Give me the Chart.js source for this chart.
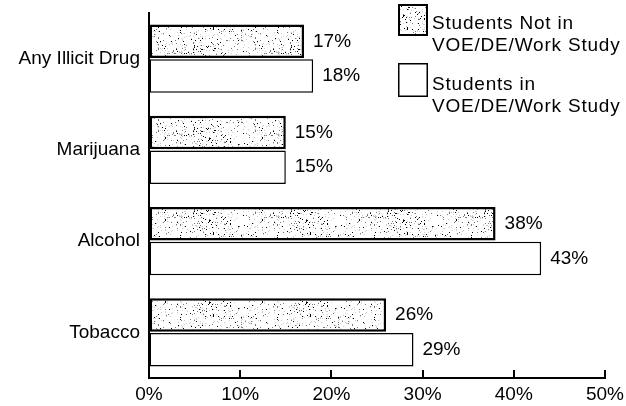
<!DOCTYPE html>
<html>
<head>
<meta charset="utf-8">
<script src="https://cdn.jsdelivr.net/npm/chart.js@4/dist/chart.umd.min.js"></script>
<style>
html,body{margin:0;padding:0;background:#fff;}
canvas{display:block;}
</style>
</head>
<body>
<canvas id="c" width="626" height="406"></canvas>
<script>
// ---- data ----
const categories = ['Any Illicit Drug', 'Marijuana', 'Alcohol', 'Tobacco'];
const notInProgramValues = [17, 15, 38, 26];
const inProgramValues = [18, 15, 43, 29];
const xTickValues = [0, 10, 20, 30, 40, 50];
const seriesNotInLabel = ['Students Not in', 'VOE/DE/Work Study'];
const seriesInLabel = ['Students in', 'VOE/DE/Work Study'];

const FONT = '"Liberation Sans", Arial, Helvetica, sans-serif';
const FSIZE = 19;

// ---- stipple texture (style only) ----
function makeStipple() {
  const off = document.createElement('canvas');
  off.width = 97; off.height = 41;
  const o = off.getContext('2d');
  o.fillStyle = '#fff';
  o.fillRect(0, 0, off.width, off.height);
  let s = 12345;
  const rnd = () => { s = (s * 1103515245 + 12345) & 0x7fffffff; return s / 0x7fffffff; };
  for (let y = 0; y < off.height; y++) {
    for (let x = 0; x < off.width; x++) {
      const r = rnd();
      let col = null;
      if (r < 0.022) col = '#000';
      else if (r < 0.05) col = '#777';
      else if (r < 0.10) col = '#ccc';
      if (col) { o.fillStyle = col; o.fillRect(x, y, 1, 1); }
    }
  }
  return document.createElement('canvas').getContext('2d').createPattern(off, 'repeat');
}
const stipple = makeStipple();

// ---- plugins ----
const extras = {
  id: 'extras',
  afterDraw(chart) {
    const ctx = chart.ctx;
    const xs = chart.scales.x;
    const area = chart.chartArea;
    ctx.save();
    // upward tick marks on x axis
    ctx.strokeStyle = '#000';
    ctx.lineWidth = 2;
    xTickValues.forEach(v => {
      const px = Math.round(xs.getPixelForValue(v));
      ctx.beginPath();
      ctx.moveTo(px, area.bottom);
      ctx.lineTo(px, area.bottom - 8);
      ctx.stroke();
    });
    // value labels
    ctx.fillStyle = '#000';
    ctx.font = FSIZE + 'px ' + FONT;
    ctx.textAlign = 'left';
    ctx.textBaseline = 'middle';
    chart.data.datasets.forEach((ds, di) => {
      const meta = chart.getDatasetMeta(di);
      meta.data.forEach((el, i) => {
        ctx.fillText(ds.data[i] + '%', el.x + 9, el.y);
      });
    });
    // legend
    const bx = 398, bw = 30;
    ctx.fillStyle = stipple;
    ctx.fillRect(bx, 4, bw, 32);
    ctx.lineWidth = 2;
    ctx.strokeStyle = '#000';
    ctx.strokeRect(bx + 1, 5, bw - 2, 30);
    ctx.fillStyle = '#fff';
    ctx.fillRect(bx, 63, bw, 34);
    ctx.lineWidth = 1.5;
    ctx.strokeRect(bx + 0.75, 63.75, bw - 1.5, 32.5);
    ctx.fillStyle = '#000';
    ctx.font = FSIZE + 'px ' + FONT;
    ctx.textBaseline = 'middle';
    if ('letterSpacing' in ctx) ctx.letterSpacing = '0.8px';
    ctx.fillText(seriesNotInLabel[0], 432, 24);
    ctx.fillText(seriesNotInLabel[1], 432, 46);
    ctx.fillText(seriesInLabel[0], 432, 85);
    ctx.fillText(seriesInLabel[1], 432, 107);
    ctx.restore();
  }
};

new Chart(document.getElementById('c'), {
  type: 'bar',
  data: {
    labels: categories,
    datasets: [
      {
        label: seriesNotInLabel.join(' '),
        data: notInProgramValues,
        backgroundColor: stipple,
        borderColor: '#000',
        borderWidth: 2.5,
        borderSkipped: false,
        categoryPercentage: 0.76,
        barPercentage: 0.97
      },
      {
        label: seriesInLabel.join(' '),
        data: inProgramValues,
        backgroundColor: '#fff',
        borderColor: '#000',
        borderWidth: 1.5,
        borderSkipped: false,
        categoryPercentage: 0.76,
        barPercentage: 0.97
      }
    ]
  },
  options: {
    indexAxis: 'y',
    responsive: false,
    animation: false,
    devicePixelRatio: 1,
    layout: { padding: { top: 13, right: 21, left: 0, bottom: 0 } },
    plugins: { legend: { display: false }, tooltip: { enabled: false } },
    scales: {
      x: {
        min: 0, max: 50,
        afterFit(s) { s.height = 28; s.paddingLeft = 0; s.paddingRight = 0; },
        afterBuildTicks(s) { s.ticks = xTickValues.map(v => ({ value: v })); },
        ticks: {
          callback: v => v + '%',
          color: '#000',
          font: { family: FONT, size: FSIZE },
          padding: 5,
          maxRotation: 0
        },
        grid: { display: true, drawOnChartArea: false, drawTicks: false },
        border: { display: true, color: '#000', width: 2 }
      },
      y: {
        afterFit(s) { s.width = 149; s.paddingTop = 0; s.paddingBottom = 0; },
        ticks: {
          color: '#000',
          font: { family: FONT, size: FSIZE },
          padding: 9
        },
        grid: { display: true, drawOnChartArea: false, drawTicks: false },
        border: { display: true, color: '#000', width: 2 }
      }
    }
  },
  plugins: [extras]
});
</script>
</body>
</html>
